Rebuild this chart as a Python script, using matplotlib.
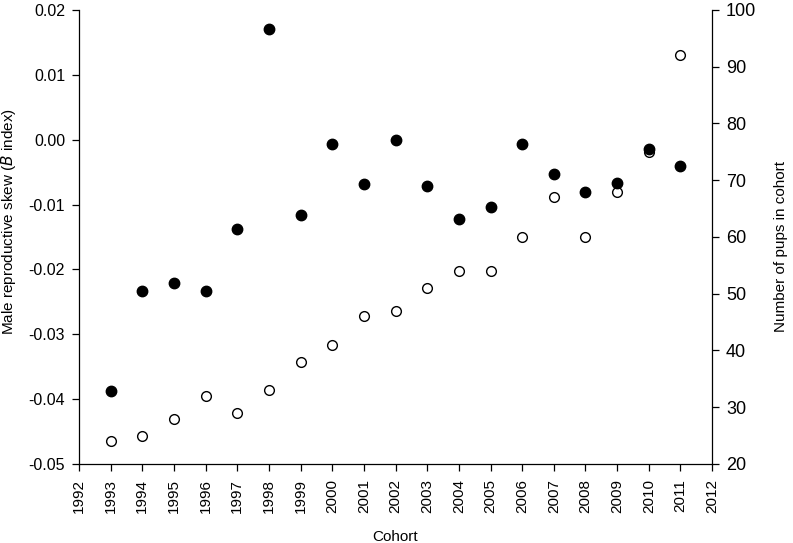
import matplotlib
matplotlib.use("Agg")
import matplotlib.pyplot as plt
import numpy as np

plt.rcParams['font.family'] = ['Liberation Sans', 'DejaVu Sans']

years = np.arange(1993, 2012)
skew = [-0.0387, -0.0233, -0.0221, -0.0233, -0.0138, 0.0171, -0.0116,
        -0.0006, -0.0068, 0.0000, -0.0072, -0.0122, -0.0104, -0.0007,
        -0.0053, -0.0080, -0.0067, -0.0015, -0.0040]
pups = [24, 25, 28, 32, 29, 33, 38, 41, 46, 47, 51, 54, 54, 60, 67, 60,
        68, 75, 92]

fig = plt.figure(figsize=(7.93, 5.43), dpi=100)
ax = fig.add_axes([0.0996, 0.1455, 0.7984, 0.8361])
ax2 = ax.twinx()

ax.plot(years, skew, 'o', color='black', markersize=7.5, zorder=3)
ax2.plot(years, pups, 'o', markerfacecolor='white', markeredgecolor='black',
         markeredgewidth=1.0, markersize=7.0)

ax.set_zorder(ax2.get_zorder() + 1)
ax.patch.set_visible(False)

ax.set_xlim(1992, 2012)
ax.set_ylim(-0.05, 0.02)
ax2.set_ylim(20, 100)

ax.set_xticks(np.arange(1992, 2013))
ax.set_xticklabels([str(y) for y in range(1992, 2013)], rotation=90, fontsize=11)
ax.set_yticks(np.arange(-0.05, 0.021, 0.01))
ax.set_yticklabels(['%.2f' % v if abs(v) > 1e-9 else '0.00'
                    for v in np.arange(-0.05, 0.021, 0.01)], fontsize=11.5)
ax2.set_yticks(np.arange(20, 101, 10))
ax2.tick_params(axis='y', labelsize=13, direction='out', length=5, width=0.9, pad=5)
ax.tick_params(axis='y', direction='out', length=5, width=0.9, pad=5)
ax.tick_params(axis='x', direction='out', length=5, width=0.9, pad=6)

for a in (ax, ax2):
    a.spines['top'].set_visible(False)
    for s in a.spines.values():
        s.set_linewidth(0.9)
ax.spines['right'].set_visible(False)
ax2.spines['left'].set_visible(False)
ax2.spines['bottom'].set_visible(False)

ax.set_xlabel('Cohort', fontsize=11, labelpad=12)
ax.set_ylabel('Male reproductive skew ($\\mathit{B}$ index)', fontsize=11)
ax.yaxis.set_label_coords(-0.096, 0.535)
ax2.set_ylabel('Number of pups in cohort', fontsize=11)
ax2.yaxis.set_label_coords(1.097, 0.48)

fig.savefig('out.png', dpi=100)
